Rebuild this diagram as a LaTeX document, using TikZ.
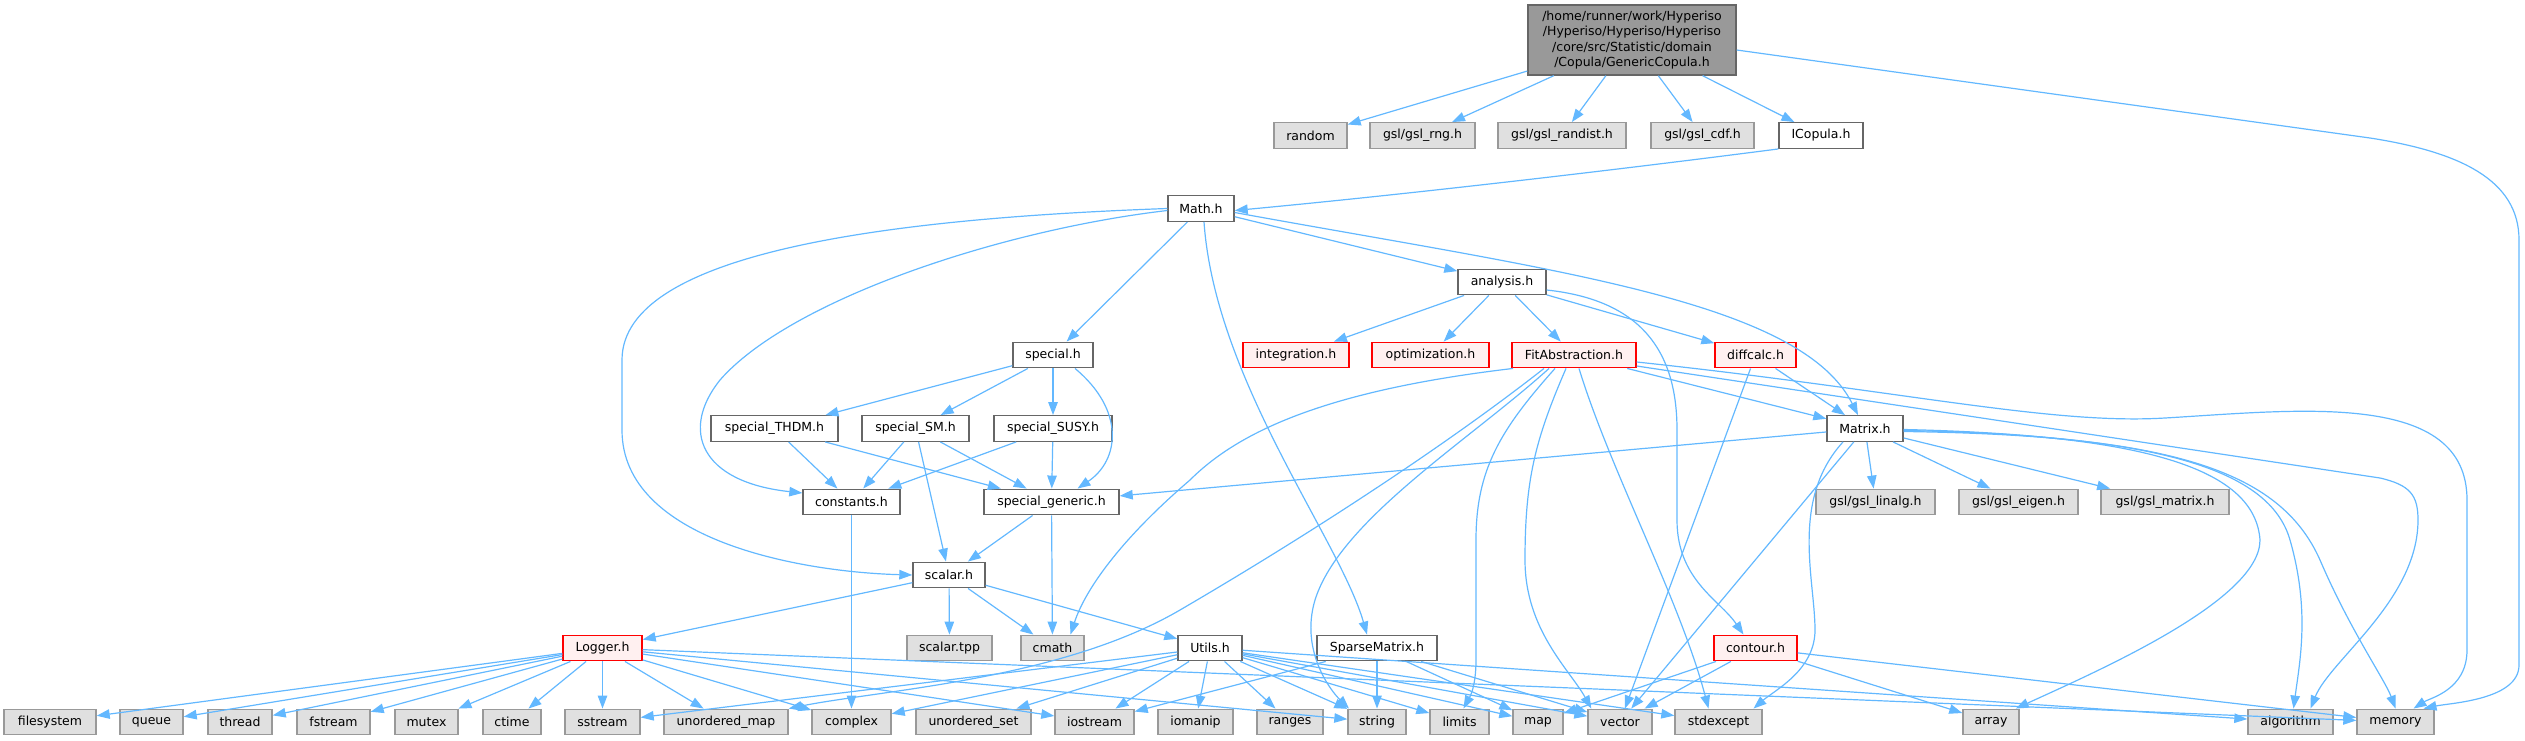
\documentclass[tikz,border=0pt]{standalone}
\usepackage{fontspec}
\setmainfont{DejaVu Sans}
\usetikzlibrary{arrows.meta}
\definecolor{eblue}{HTML}{63B8FF}
\definecolor{cdark}{HTML}{666666}
\definecolor{cmid}{HTML}{999999}
\definecolor{cext}{HTML}{E0E0E0}
\definecolor{cred}{HTML}{FFF0F0}
\definecolor{credline}{HTML}{FF0000}
\begin{document}
\begin{tikzpicture}[x=1pt,y=-1pt,
  nb/.style={draw=cdark, fill=white, line width=1.4pt, minimum height=25.5pt, inner xsep=2pt, inner ysep=0pt, font=\fontsize{12.5}{15}\selectfont},
  ext/.style={nb, draw=cmid, fill=cext},
  trunc/.style={nb, draw=credline, fill=cred},
  mainnode/.style={nb, fill=cmid, draw=cdark, align=center, minimum height=70pt, font=\fontsize{12.5}{15.6}\selectfont},
  e/.style={draw=eblue, line width=1.2pt, -{Triangle[length=13pt,width=9.5pt]}}
]
\useasboundingbox (0,0) rectangle (2525,740);

% nodes
\node[mainnode, minimum width=208pt] (main) at (1632,40) {/home/runner/work/Hyperiso\\/Hyperiso/Hyperiso/Hyperiso\\/core/src/Statistic/domain\\/Copula/GenericCopula.h};
\node[ext, minimum width=73pt] (random) at (1310.5,135.5) {random};
\node[ext, minimum width=105pt] (rng) at (1422.5,135.5) {gsl/gsl\_rng.h};
\node[ext, minimum width=128pt] (randist) at (1562,135.5) {gsl/gsl\_randist.h};
\node[ext, minimum width=103pt] (cdf) at (1702.5,135.5) {gsl/gsl\_cdf.h};
\node[nb, minimum width=84pt] (icopula) at (1821,135.5) {ICopula.h};
\node[nb, minimum width=66pt] (math) at (1201,208.5) {Math.h};
\node[nb, minimum width=88pt] (analysis) at (1502,282) {analysis.h};
\node[nb, minimum width=80pt] (special) at (1053,355) {special.h};
\node[trunc, minimum width=106pt] (integ) at (1296,355) {integration.h};
\node[trunc, minimum width=117pt] (optim) at (1430.5,355) {optimization.h};
\node[trunc, minimum width=124pt] (fit) at (1574,355) {FitAbstraction.h};
\node[trunc, minimum width=81pt] (diffcalc) at (1755.5,355) {diffcalc.h};
\node[nb, minimum width=127pt] (thdm) at (774.5,428.5) {special\_THDM.h};
\node[nb, minimum width=107pt] (sm) at (915.5,428.5) {special\_SM.h};
\node[nb, minimum width=118pt] (susy) at (1053,428.5) {special\_SUSY.h};
\node[nb, minimum width=76pt] (matrix) at (1865,428.5) {Matrix.h};
\node[nb, minimum width=97pt] (constants) at (851.5,502) {constants.h};
\node[nb, minimum width=135pt] (sgeneric) at (1051.5,502) {special\_generic.h};
\node[ext, minimum width=119pt] (linalg) at (1875.5,502) {gsl/gsl\_linalg.h};
\node[ext, minimum width=119pt] (eigen) at (2018.5,502) {gsl/gsl\_eigen.h};
\node[ext, minimum width=128pt] (gmatrix) at (2165,502) {gsl/gsl\_matrix.h};
\node[nb, minimum width=72pt] (scalar) at (949,575) {scalar.h};
\node[trunc, minimum width=79pt] (logger) at (602.5,648) {Logger.h};
\node[ext, minimum width=85pt] (scalartpp) at (949.5,648) {scalar.tpp};
\node[ext, minimum width=63pt] (cmath) at (1052.5,648) {cmath};
\node[nb, minimum width=64pt] (utils) at (1210,648) {Utils.h};
\node[nb, minimum width=120pt] (sparse) at (1377,648) {SparseMatrix.h};
\node[trunc, minimum width=83pt] (contour) at (1755.5,648) {contour.h};
% bottom row
\node[ext, minimum width=92pt] (filesystem) at (50,722) {filesystem};
\node[ext, minimum width=63pt] (queue) at (151.5,722) {queue};
\node[ext, minimum width=64pt] (thread) at (240,722) {thread};
\node[ext, minimum width=73pt] (fstream) at (333.5,722) {fstream};
\node[ext, minimum width=63pt] (mutex) at (426.5,722) {mutex};
\node[ext, minimum width=58pt] (ctime) at (512,722) {ctime};
\node[ext, minimum width=75pt] (sstream) at (602.5,722) {sstream};
\node[ext, minimum width=124pt] (umap) at (726,722) {unordered\_map};
\node[ext, minimum width=79pt] (complex) at (851.5,722) {complex};
\node[ext, minimum width=115pt] (uset) at (973.5,722) {unordered\_set};
\node[ext, minimum width=79pt] (iostream) at (1094.5,722) {iostream};
\node[ext, minimum width=75pt] (iomanip) at (1195.5,722) {iomanip};
\node[ext, minimum width=66pt] (ranges) at (1290,722) {ranges};
\node[ext, minimum width=58pt] (string) at (1377,722) {string};
\node[ext, minimum width=59pt] (limits) at (1459.5,722) {limits};
\node[ext, minimum width=50pt] (map) at (1538,722) {map};
\node[ext, minimum width=64pt] (vector) at (1620,722) {vector};
\node[ext, minimum width=87pt] (stdexcept) at (1718.5,722) {stdexcept};
\node[ext, minimum width=56pt] (array) at (1991,722) {array};
\node[ext, minimum width=85pt] (algorithm) at (2290.5,722) {algorithm};
\node[ext, minimum width=77pt] (memory) at (2395.5,722) {memory};

% edges from main
\draw[e] (main) -- (random);
\draw[e] (main) -- (rng);
\draw[e] (main) -- (randist);
\draw[e] (main) -- (cdf);
\draw[e] (main) -- (icopula);
\draw[e] ([yshift=-10pt]main.east) -- (2370,138) .. controls (2460,152) and (2519,180) .. (2519,240) -- (2519,665) .. controls (2519,700) and (2450,703) .. ([xshift=28pt]memory.north);
\draw[e] (icopula.south west) .. controls (1600,172) and (1400,195) .. ([yshift=-2pt]math.east);

% Math
\draw[e] ([yshift=-2pt]math.west) .. controls (1000,230) and (790,300) .. (720,380) .. controls (680,430) and (700,482) .. ([yshift=9pt]constants.west);
\draw[e] (math.west) .. controls (900,218) and (622,250) .. (622,360) -- (622,430) .. controls (622,540) and (800,572) .. (scalar.west);
\draw[e] (math) -- (special);
\draw[e] ([xshift=3pt]math.south) .. controls (1215,380) and (1340,540) .. ([xshift=-10pt]sparse.north);
\draw[e] (math) -- (analysis);
\draw[e] ([yshift=-4pt]math.east) .. controls (1550,270) and (1800,300) .. ([xshift=-7pt]matrix.north);

% analysis
\draw[e] (analysis) -- (integ);
\draw[e] (analysis) -- (optim);
\draw[e] (analysis) -- (fit);
\draw[e] (analysis) -- (diffcalc);
\draw[e] ([yshift=-8pt]analysis.east) .. controls (1640,300) and (1677,350) .. (1677,430) -- (1677,520) .. controls (1677,580) and (1720,600) .. ([xshift=-12pt]contour.north);

% special
\draw[e] (special) -- (thdm);
\draw[e] (special) -- (sm);
\draw[e] (special) -- (susy);
\draw[e] ([xshift=22pt]special.south) .. controls (1125,410) and (1120,460) .. ([xshift=26pt]sgeneric.north);
\draw[e] (thdm) -- (constants);
\draw[e] (thdm) -- (sgeneric);
\draw[e] (sm) -- (constants);
\draw[e] (sm) -- (scalar);
\draw[e] (sm) -- (sgeneric);
\draw[e] (susy) -- (constants);
\draw[e] (susy) -- (sgeneric);
\draw[e] (constants) -- (complex);
\draw[e] (sgeneric) -- (scalar);
\draw[e] (sgeneric) -- (cmath);

% scalar
\draw[e] (scalar) -- (logger);
\draw[e] (scalar) -- (scalartpp);
\draw[e] (scalar) -- (cmath);
\draw[e] (scalar) -- (utils);

% Logger
\foreach \t in {filesystem,queue,thread,fstream,mutex,ctime,sstream,umap,complex,iostream,string,memory}
  \draw[e] (logger) -- (\t);

% Utils
\foreach \t in {sstream,complex,uset,iostream,iomanip,ranges,string,limits,map,vector,stdexcept,algorithm}
  \draw[e] (utils) -- (\t);

% SparseMatrix
\foreach \t in {iostream,string,map,vector}
  \draw[e] (sparse) -- (\t);

% FitAbstraction
\draw[e] (fit) -- (matrix);
\draw[e] ([xshift=-61pt]fit.south) .. controls (1330,390) and (1240,430) .. (1190,480) .. controls (1120,540) and (1085,590) .. ([xshift=18pt]cmath.north);
\draw[e] ([xshift=-30pt]fit.south) .. controls (1440,450) and (1300,540) .. (1180,610) .. controls (1060,680) and (880,690) .. (umap.north east);
\draw[e] ([xshift=-25pt]fit.south) .. controls (1470,440) and (1340,520) .. (1315,600) .. controls (1300,650) and (1330,690) .. ([xshift=-28pt]string.north);
\draw[e] ([xshift=-19pt]fit.south) .. controls (1500,430) and (1476,470) .. (1476,540) -- (1476,660) .. controls (1476,690) and (1468,700) .. ([xshift=4pt]limits.north);
\draw[e] ([xshift=-8pt]fit.south) .. controls (1535,440) and (1525,480) .. (1525,560) .. controls (1525,630) and (1570,670) .. ([xshift=4pt]vector.north west);
\draw[e] ([xshift=5pt]fit.south) .. controls (1610,470) and (1680,600) .. ([xshift=-10pt]stdexcept.north);
\draw[e] ([yshift=-7pt]fit.east) .. controls (1900,390) and (2050,425) .. (2165,418) .. controls (2300,410) and (2467,390) .. (2467,500) -- (2467,650) .. controls (2467,690) and (2430,698) .. ([xshift=18pt]memory.north);
\draw[e] ([yshift=-11pt]fit.east) -- (2380,478) .. controls (2410,485) and (2418,495) .. (2418,520) .. controls (2418,600) and (2330,660) .. ([xshift=20pt]algorithm.north);

% diffcalc
\draw[e] (diffcalc) -- (matrix);
\draw[e] (diffcalc) -- (vector);

% Matrix
\draw[e] (matrix) -- (sgeneric);
\draw[e] (matrix) -- (linalg);
\draw[e] (matrix) -- (eigen);
\draw[e] (matrix) -- (gmatrix);
\draw[e] (matrix) -- (vector);
\draw[e] ([xshift=-22pt]matrix.south) .. controls (1790,500) and (1815,580) .. (1815,630) .. controls (1815,670) and (1775,690) .. ([xshift=35pt]stdexcept.north);
\draw[e] ([yshift=-1pt]matrix.east) .. controls (2150,435) and (2255,470) .. (2260,540) .. controls (2260,600) and (2100,670) .. ([xshift=-4pt]array.north east);
\draw[e] ([yshift=-2pt]matrix.east) .. controls (2160,435) and (2270,470) .. (2290,540) .. controls (2310,610) and (2300,660) .. ([xshift=3pt]algorithm.north);
\draw[e] ([yshift=-3pt]matrix.east) .. controls (2170,435) and (2280,470) .. (2320,560) .. controls (2350,630) and (2385,680) .. (memory.north);

% contour
\draw[e] (contour) -- (vector);
\draw[e] (contour) -- (map);
\draw[e] (contour) -- (array);
\draw[e] (contour) -- (memory);
\end{tikzpicture}
\end{document}
